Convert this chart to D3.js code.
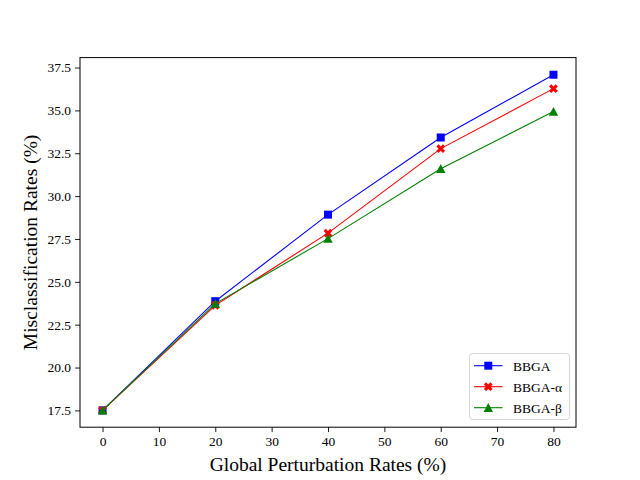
<!DOCTYPE html>
<html>
<head>
<meta charset="utf-8">
<script src="https://cdn.jsdelivr.net/npm/d3@7"></script>
<style>
  body { margin: 0; background: #fff; }
  text { font-family: "Liberation Serif", "Times New Roman", serif; }
</style>
</head>
<body>
<svg id="chart" width="640" height="480"></svg>
<script>
// data
var rates = [0, 20, 40, 60, 80]
var bbga = [17.5, 23.87, 28.92, 33.42, 37.08]
var bbgaAlpha = [17.5, 23.63, 27.84, 32.77, 36.27]
var bbgaBeta = [17.5, 23.73, 27.52, 31.6, 34.93]
var xTicks = [0, 10, 20, 30, 40, 50, 60, 70, 80]
var yTicks = [17.5, 20.0, 22.5, 25.0, 27.5, 30.0, 32.5, 35.0, 37.5]
var seriesNames = ["BBGA", "BBGA-\u03b1", "BBGA-\u03b2"]

var dimensions = {
  width: 640,
  height: 480,
  margin: { top: 57.6, bottom: 52.8, right: 64, left: 80 }
}

var svg = d3.select("#chart")
var innerW = dimensions.width - dimensions.margin.left - dimensions.margin.right
var innerH = dimensions.height - dimensions.margin.top - dimensions.margin.bottom

var x = d3.scaleLinear().domain([-4, 84]).range([dimensions.margin.left, dimensions.margin.left + innerW])
var y = d3.scaleLinear().domain([16.52, 38.08]).range([dimensions.margin.top + innerH, dimensions.margin.top])

var series = [
  { name: seriesNames[0], values: bbga, color: "blue", marker: "square" },
  { name: seriesNames[1], values: bbgaAlpha, color: "red", marker: "cross" },
  { name: seriesNames[2], values: bbgaBeta, color: "green", marker: "triangle" }
]

// axes
var xAxis = svg.append("g")
  .attr("transform", "translate(0," + (dimensions.margin.top + innerH) + ")")
  .call(d3.axisBottom(x).tickValues(xTicks).tickSize(4.9).tickPadding(4).tickFormat(d3.format("d")))
var yAxis = svg.append("g")
  .attr("transform", "translate(" + dimensions.margin.left + ",0)")
  .call(d3.axisLeft(y).tickValues(yTicks).tickSize(4.9).tickPadding(4).tickFormat(d3.format(".1f")))

;[xAxis, yAxis].forEach(function(a) {
  a.select(".domain").remove()
  a.selectAll(".tick line").attr("stroke", "black").attr("stroke-width", 0.9)
  a.selectAll(".tick text").attr("fill", "black").style("font-size", "13.5px")
    .style("font-family", "'Liberation Serif', serif")
})

svg.append("rect")
  .attr("x", dimensions.margin.left)
  .attr("y", dimensions.margin.top)
  .attr("width", innerW)
  .attr("height", innerH)
  .attr("fill", "none")
  .attr("stroke", "black")
  .attr("stroke-width", 1)

// axis titles
svg.append("text")
  .text("Global Perturbation Rates (%)")
  .attr("x", dimensions.margin.left + innerW / 2)
  .attr("y", 471)
  .attr("text-anchor", "middle")
  .style("font-size", "19.5px")

svg.append("text")
  .text("Misclassification Rates (%)")
  .attr("transform", "translate(37," + (dimensions.margin.top + innerH / 2) + ") rotate(-90)")
  .attr("text-anchor", "middle")
  .style("font-size", "19.5px")

// marker drawing
function drawMarker(g, type, cx, cy, color) {
  if (type == "square") {
    g.append("rect")
      .attr("x", cx - 4).attr("y", cy - 4)
      .attr("width", 8).attr("height", 8)
      .attr("fill", color)
  } else if (type == "cross") {
    g.append("path")
      .attr("d", d3.symbol().type(d3.symbolCross).size(48))
      .attr("transform", "translate(" + cx + "," + cy + ") rotate(45)")
      .attr("fill", color)
  } else {
    g.append("path")
      .attr("d", "M0,-4.7L4.7,4.2L-4.7,4.2Z")
      .attr("transform", "translate(" + cx + "," + cy + ")")
      .attr("fill", color)
  }
}

var line = d3.line()
  .x(function(d, i) { return x(rates[i]) })
  .y(function(d) { return y(d) })

series.forEach(function(s) {
  var g = svg.append("g")
  g.append("path")
    .datum(s.values)
    .attr("d", line)
    .attr("fill", "none")
    .attr("stroke", s.color)
    .attr("stroke-width", 1.1)
  s.values.forEach(function(v, i) {
    drawMarker(g, s.marker, x(rates[i]), y(v), s.color)
  })
})

// legend
var legend = svg.append("g")
legend.append("rect")
  .attr("x", 469.5).attr("y", 353.5)
  .attr("width", 100).attr("height", 66)
  .attr("rx", 3)
  .attr("fill", "white")
  .attr("fill-opacity", 0.8)
  .attr("stroke", "#d5d5d5")

series.forEach(function(s, i) {
  var ly = 365.7 + i * 21
  legend.append("line")
    .attr("x1", 474).attr("x2", 502.5)
    .attr("y1", ly).attr("y2", ly)
    .attr("stroke", s.color).attr("stroke-width", 1.1)
  drawMarker(legend, s.marker, 488.3, ly, s.color)
  legend.append("text")
    .text(s.name)
    .attr("x", 513)
    .attr("y", ly + 4.8)
    .style("font-size", "13.5px")
})
</script>
</body>
</html>
